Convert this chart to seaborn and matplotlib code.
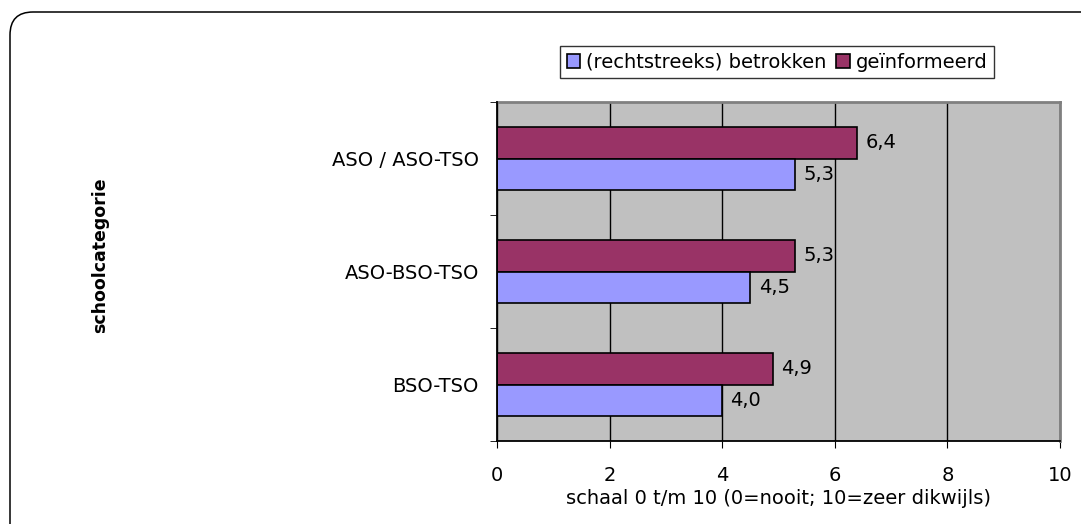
import numpy as np
import pandas as pd
import matplotlib
matplotlib.use('Agg')
import matplotlib.pyplot as plt
import seaborn as sns
from matplotlib.patches import FancyBboxPatch, Patch

# Data
categories = ['ASO / ASO-TSO', 'ASO-BSO-TSO', 'BSO-TSO']
betrokken = [5.3, 4.5, 4.0]
geinformeerd = [6.4, 5.3, 4.9]
series = ['geïnformeerd', '(rechtstreeks) betrokken']

df = pd.DataFrame({
    'categorie': categories * 2,
    'score': geinformeerd + betrokken,
    'groep': [series[0]] * 3 + [series[1]] * 3,
})

sns.set_style('white')
plt.rcParams['font.family'] = ['DejaVu Sans']
plt.rcParams['text.color'] = 'black'
plt.rcParams['xtick.color'] = 'black'
plt.rcParams['ytick.color'] = 'black'
plt.rcParams['axes.labelcolor'] = 'black'

fs = 14
colors = {'(rechtstreeks) betrokken': '#9999FF', 'geïnformeerd': '#993366'}

fig = plt.figure(figsize=(10.81, 5.24), dpi=100)
ax = fig.add_axes([497 / 1081, 1 - 441 / 524, 563 / 1081, 339 / 524])

# rounded frame around the chart (runs off the right and bottom edge)
frame = FancyBboxPatch((0.10, -1.0), 12, 5.12 + 1.0,
                       boxstyle='round,pad=0,rounding_size=0.23',
                       transform=fig.dpi_scale_trans, facecolor='none',
                       edgecolor='black', linewidth=1.1, zorder=0)
fig.patches.append(frame)

sns.barplot(data=df, x='score', y='categorie', hue='groep', hue_order=series,
            palette=colors, order=categories, width=0.56, edgecolor='black',
            linewidth=1.2, saturation=1, ax=ax, legend=False, zorder=3)

ax.set_facecolor('#C0C0C0')
ax.set_xlim(0, 10)
ax.set_ylim(2.5, -0.5)
ax.set_xticks([0, 2, 4, 6, 8, 10])
ax.xaxis.grid(True, color='black', linewidth=1)
ax.set_axisbelow(True)
for s in ['top', 'right']:
    ax.spines[s].set_color('#808080')
    ax.spines[s].set_linewidth(2)
for s in ['left', 'bottom']:
    ax.spines[s].set_color('black')
    ax.spines[s].set_linewidth(1.3)
    ax.spines[s].set_zorder(4)

ax.set_yticks([-0.5, 0.5, 1.5, 2.5], minor=True)
ax.tick_params(axis='y', which='minor', length=5, direction='out', left=True)
ax.tick_params(axis='y', which='major', length=0, pad=13, labelsize=fs)
ax.tick_params(axis='x', length=5, direction='out', bottom=True, pad=13, labelsize=fs)

for cont in ax.containers:
    ax.bar_label(cont, labels=[f'{v:.1f}'.replace('.', ',') for v in cont.datavalues],
                 padding=6, fontsize=fs)

ax.set_ylabel('')
ax.set_xlabel('schaal 0 t/m 10 (0=nooit; 10=zeer dikwijls)', fontsize=fs, labelpad=3)
fig.text(100 / 1081, 1 - 255 / 524, 'schoolcategorie', rotation=90, fontsize=12.5,
         fontweight='bold', ha='center', va='center')

handles = [Patch(facecolor=colors[s], edgecolor='black', linewidth=1.2)
           for s in ['(rechtstreeks) betrokken', 'geïnformeerd']]
fig.legend(handles, ['(rechtstreeks) betrokken', 'geïnformeerd'], ncol=2,
           loc='center', bbox_to_anchor=(777 / 1081, 1 - 62 / 524), fontsize=fs,
           frameon=True, fancybox=False, edgecolor='black', handlelength=0.7,
           handleheight=0.7, handletextpad=0.3, columnspacing=0.5,
           borderpad=0.35, borderaxespad=0)

fig.savefig('out.png', dpi=100)
